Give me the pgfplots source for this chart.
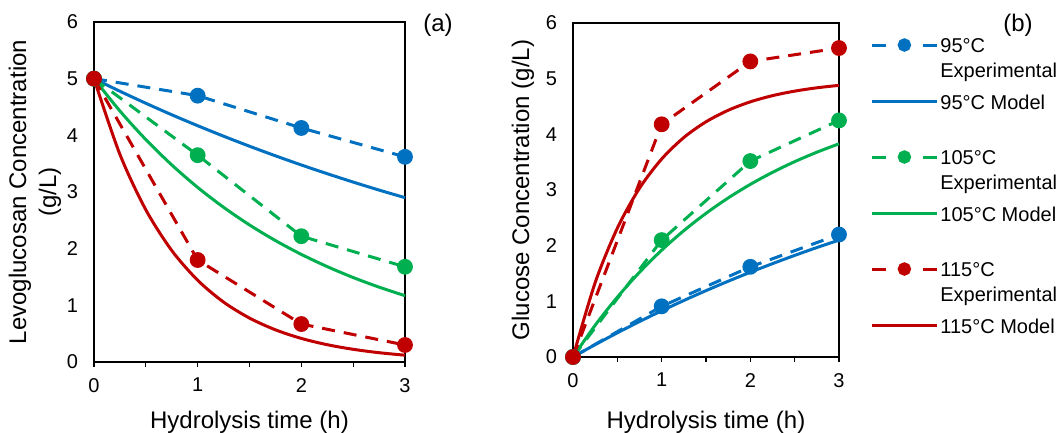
\documentclass[border=0pt]{standalone}
\usepackage{fontspec}
\setmainfont{Liberation Sans}
\usepackage{pgfplots}
\pgfplotsset{compat=1.18}
\definecolor{cblue}{HTML}{0070C0}
\definecolor{cgreen}{HTML}{00B050}
\definecolor{cred}{HTML}{C00000}
\pgfplotsset{
  myax/.style={
    scale only axis, xmin=0, xmax=3, ymin=0, ymax=6,
    xtick={0,1,2,3}, minor xtick={0.5,1.5,2.5}, ytick={0,1,2,3,4,5,6},
    tick align=outside, xtick pos=bottom, ytick pos=left,
    major tick length=2.5pt, minor tick length=2.5pt,
    ytick style={draw=none},
    axis line style={line width=0.6pt},
    xtick style={black, line width=0.6pt},
    minor x tick style={black, line width=0.6pt},
    ticklabel style={font=\fontsize{10}{12}\selectfont},
    xticklabel style={yshift=-2pt},
    yticklabel style={xshift=-2pt},
    /pgf/number format/assume math mode=true,
    label style={font=\fontsize{12}{15}\selectfont},
    clip=false,
  },
  expst/.style={#1, line width=1.5pt, dash pattern=on 6.5pt off 4.5pt, mark=*, mark size=3.2pt, mark options={solid},
    legend image code/.code={
      \draw[solid, line width=1.5pt] (0pt,9pt) -- (7pt,9pt);
      \draw[solid, line width=1.5pt] (25.5pt,9pt) -- (32.5pt,9pt);
      \draw[only marks, mark=*, mark size=2.6pt, mark options={solid}] plot coordinates {(16.25pt,9pt)};
    }},
  modst/.style={#1, line width=1.5pt, smooth,
    legend image code/.code={
      \draw[solid, line width=1.5pt] (0pt,9pt) -- (32.5pt,9pt);
    }},
}
\begin{document}
\begin{tikzpicture}
\begin{axis}[myax, at={(0pt,0pt)}, anchor=south west, width=155.5pt, height=170pt,
  xlabel={Hydrolysis time (h)},
  xlabel style={at={(axis description cs:0.5,-0.176)}, anchor=center},
  ylabel={Levoglucosan Concentration\\(g/L)},
  ylabel style={align=center, at={(axis description cs:-0.19,0.5)}, anchor=center},
]
\addplot[expst=cblue] coordinates {(0,5) (1,4.70) (2,4.13) (3,3.62)};
\addplot[modst=cblue] coordinates {(0,5) (0.25,4.778) (0.5,4.566) (0.75,4.363) (1,4.170) (1.25,3.985) (1.5,3.808) (1.75,3.639) (2,3.477) (2.25,3.323) (2.5,3.175) (2.75,3.034) (3,2.90)};
\addplot[expst=cgreen] coordinates {(0,5) (1,3.65) (2,2.22) (3,1.68)};
\addplot[modst=cgreen] coordinates {(0,5) (0.25,4.430) (0.5,3.925) (0.75,3.478) (1,3.081) (1.25,2.730) (1.5,2.419) (1.75,2.143) (2,1.899) (2.25,1.683) (2.5,1.491) (2.75,1.321) (3,1.170)};
\addplot[expst=cred] coordinates {(0,5) (1,1.80) (2,0.67) (3,0.30)};
\addplot[modst=cred] coordinates {(0,5) (0.25,3.664) (0.5,2.686) (0.75,1.968) (1,1.443) (1.25,1.057) (1.5,0.775) (1.75,0.568) (2,0.416) (2.25,0.305) (2.5,0.224) (2.75,0.164) (3,0.120)};
\node[font=\fontsize{12}{14}\selectfont] at (rel axis cs:1.106,0.991) {(a)};
\end{axis}
\begin{axis}[myax, at={(239.5pt,2.5pt)}, anchor=south west, width=133pt, height=167pt,
  xlabel={Hydrolysis time (h)},
  xlabel style={at={(axis description cs:0.5,-0.195)}, anchor=center},
  ylabel={Glucose Concentration (g/L)},
  ylabel style={at={(axis description cs:-0.188,0.5)}, anchor=center},
  legend style={at={(axis description cs:1,1)}, anchor=north west, xshift=15.5pt, yshift=-5.8pt,
    draw=none, fill=none, inner sep=0pt, row sep=0pt,
    font=\fontsize{10}{12.5}\selectfont,
    nodes={inner xsep=1pt, inner ysep=2pt, text depth=}},
  legend cell align=left,
]
\addplot[expst=cblue] coordinates {(0,0) (1,0.91) (2,1.62) (3,2.20)};
\addlegendentry{\parbox[t][24pt][t]{70pt}{95°C\\Experimental}}
\addplot[modst=cblue] coordinates {(0,0) (0.25,0.222) (0.5,0.434) (0.75,0.637) (1,0.830) (1.25,1.015) (1.5,1.192) (1.75,1.361) (2,1.523) (2.25,1.677) (2.5,1.825) (2.75,1.966) (3,2.10)};
\addlegendentry{\parbox[t][24pt][t]{70pt}{95°C Model}}
\addplot[expst=cgreen] coordinates {(0,0) (1,2.10) (2,3.52) (3,4.25)};
\addlegendentry{\parbox[t][24pt][t]{70pt}{105°C\\Experimental}}
\addplot[modst=cgreen] coordinates {(0,0) (0.25,0.570) (0.5,1.075) (0.75,1.522) (1,1.919) (1.25,2.270) (1.5,2.581) (1.75,2.857) (2,3.101) (2.25,3.317) (2.5,3.509) (2.75,3.679) (3,3.830)};
\addlegendentry{\parbox[t][24pt][t]{70pt}{105°C Model}}
\addplot[expst=cred] coordinates {(0,0) (1,4.18) (2,5.31) (3,5.55)};
\addlegendentry{\parbox[t][24pt][t]{70pt}{115°C\\Experimental}}
\addplot[modst=cred] coordinates {(0,0) (0.25,1.336) (0.5,2.314) (0.75,3.032) (1,3.557) (1.25,3.943) (1.5,4.225) (1.75,4.432) (2,4.584) (2.25,4.695) (2.5,4.776) (2.75,4.836) (3,4.880)};
\addlegendentry{\parbox[t][24pt][t]{70pt}{115°C Model}}
\node[font=\fontsize{12}{14}\selectfont] at (rel axis cs:1.673,0.994) {(b)};
\end{axis}
\pgfresetboundingbox
\path[use as bounding box] (-47pt,-35.5pt) rectangle (481.5pt,181pt);
\end{tikzpicture}
\end{document}
